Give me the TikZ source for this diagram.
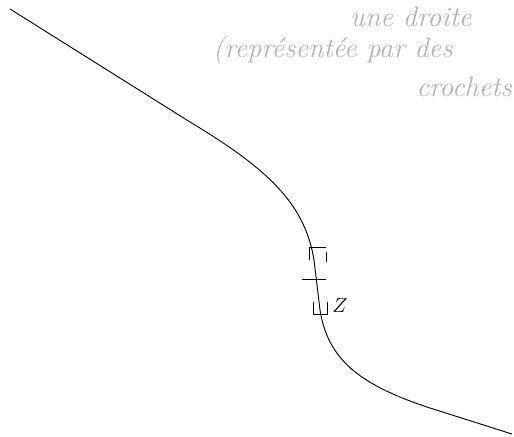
\documentclass[tikz,border=0pt]{standalone}
\usetikzlibrary{positioning}

\begin{document}
\begin{tikzpicture}[x=0.03cm,y=-0.03cm,line join=round]
\tikzstyle{hand}=[gray!60,font=\fontsize{24}{28}\selectfont\itshape,inner sep=0pt]
\tikzstyle{crochet}=[line width=0.7pt]
\useasboundingbox (0,0) rectangle (514,436);
\draw[line width=0.8pt] (10,9) -- (190,122) .. controls (270,170) and (305,205) .. (314,260)
  -- (320,310) .. controls (328,360) and (360,385) .. (430,408) -- (512,434);
% crochets
\draw[crochet] (309,260) -- (309,247) -- (326,247);
\draw[crochet] (326,252) -- (326,262);
\draw[crochet] (302,279) -- (326,279);
\draw[crochet] (313,302) -- (313,314) -- (327,314) -- (327,302);
\node[anchor=west,inner sep=1pt,font=\LARGE] (z) at (331,306) {$Z$};
% texte
\node[hand,anchor=west] (l1) at (350,17) {une droite};
\node[hand,anchor=west] (l2) at (213,50) {(représentée par des};
\node[hand,anchor=east] (l3) at (512,87) {crochets};
\end{tikzpicture}
\end{document}
